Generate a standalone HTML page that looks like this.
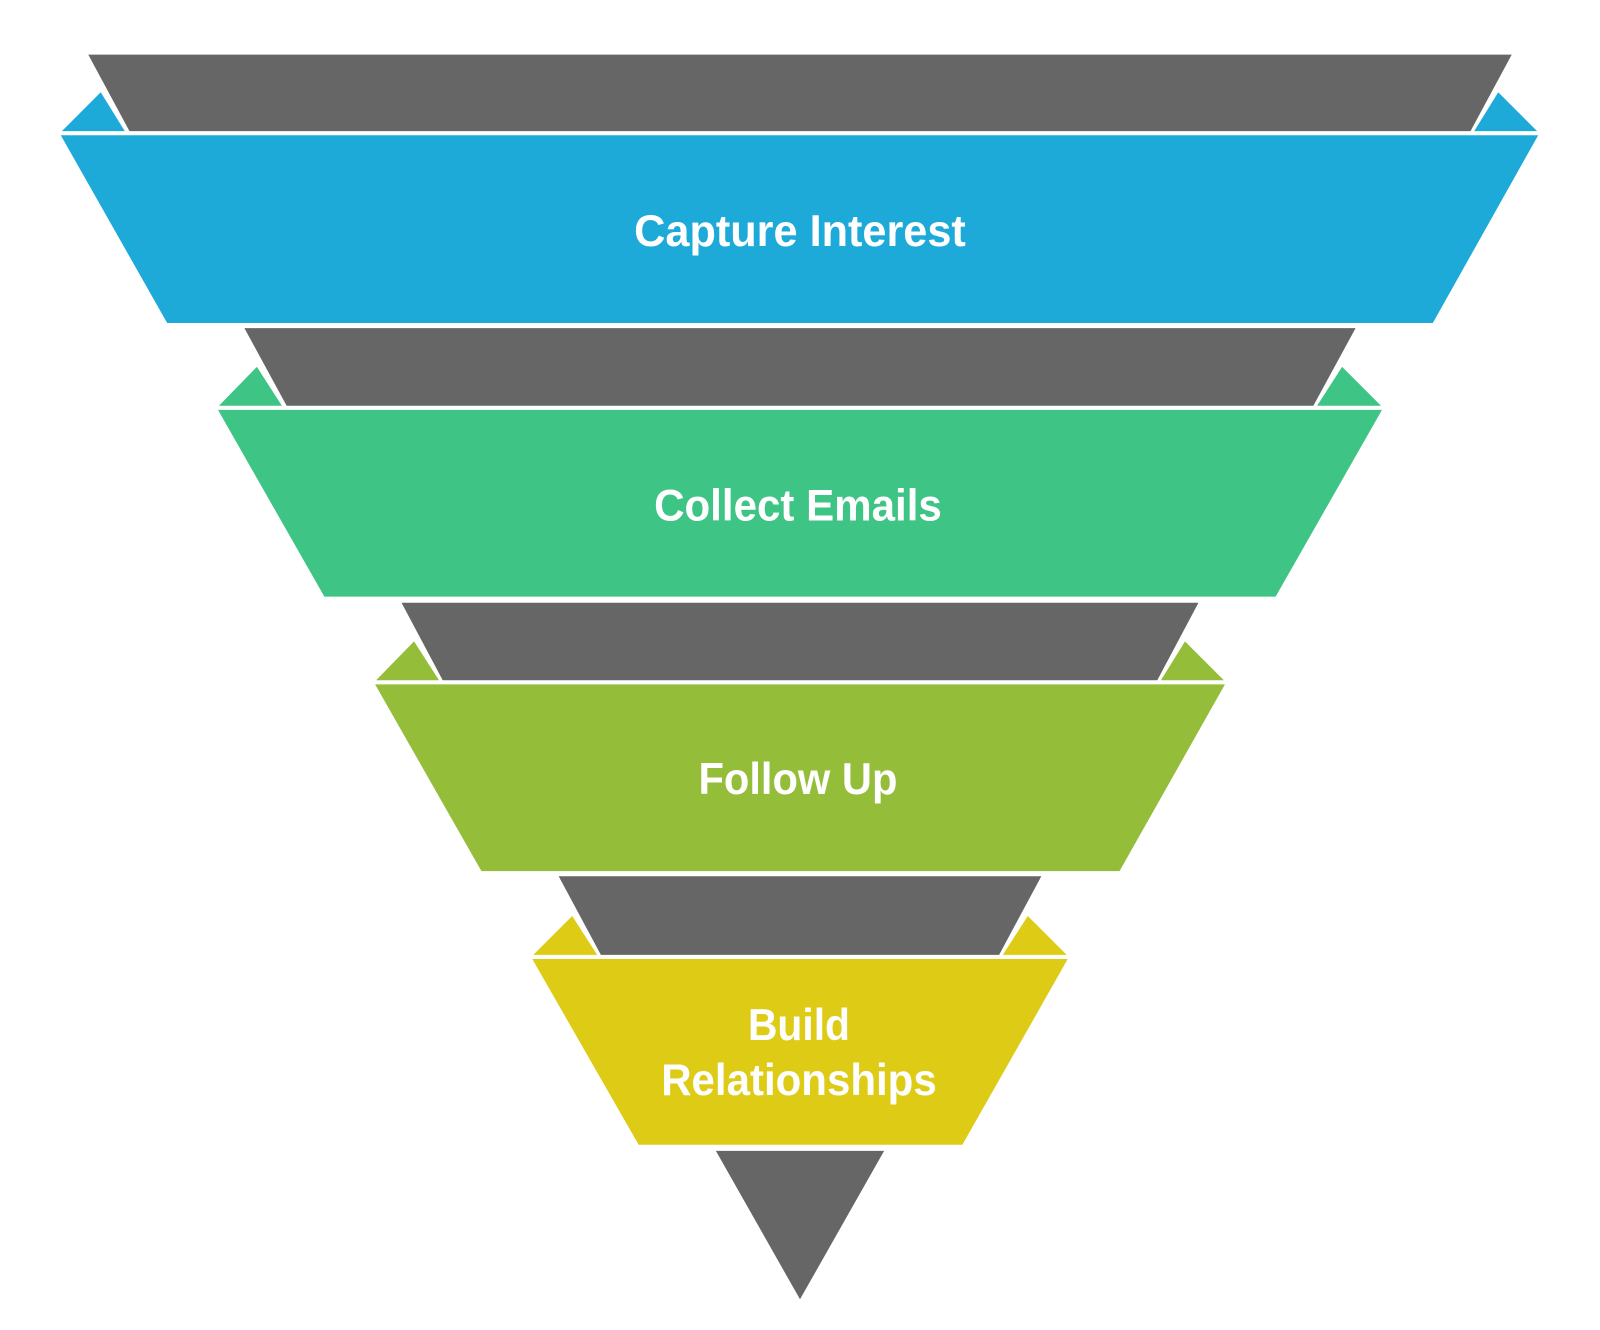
<!DOCTYPE html>
<html><head><meta charset="utf-8"><style>
html,body{margin:0;padding:0;background:#fff;}
svg{display:block;}
text{font-family:"Liberation Sans",Arial,sans-serif;font-weight:bold;fill:#fff;text-anchor:middle;font-size:44px;}
</style></head><body>
<svg width="1600" height="1330" viewBox="0 0 1568 1303" preserveAspectRatio="none" xmlns="http://www.w3.org/2000/svg">
<g stroke="#fff" stroke-width="3" stroke-linejoin="miter">
<!-- layer 1 -->
<polygon points="57,130 99,88 125,130" fill="#1eaad9"/>
<polygon points="1510,130 1468,88 1442,130" fill="#1eaad9"/>
<polygon points="84,52 1484,52 1442,130 126,130" fill="#666"/>
<polygon points="57,131 1510,131 1405,318 163,318" fill="#1eaad9"/>
<!-- layer 2 -->
<polygon points="211,399 252,357 279,399" fill="#3ec484"/>
<polygon points="1357,399 1315,357 1288,399" fill="#3ec484"/>
<polygon points="237,320 1331,320 1288,399 280,399" fill="#666"/>
<polygon points="211,400 1357,400 1251,586 317,586" fill="#3ec484"/>
<!-- layer 3 -->
<polygon points="365,668 406,626 433,668" fill="#94bd3a"/>
<polygon points="1203,668 1161,626 1135,668" fill="#94bd3a"/>
<polygon points="391,589 1177,589 1135,668 433,668" fill="#666"/>
<polygon points="365,669 1203,669 1098,855 471,855" fill="#94bd3a"/>
<!-- layer 4 -->
<polygon points="519,937 561,895 588,937" fill="#ddcb16"/>
<polygon points="1049,937 1007,895 980,937" fill="#ddcb16"/>
<polygon points="545,857 1023,857 980,937 588,937" fill="#666"/>
<polygon points="519,938 1049,938 944,1123 625,1123" fill="#ddcb16"/>
<!-- bottom -->
<polygon points="699,1126 869,1126 784,1276" fill="#666"/>
</g>
<text x="784" y="241" textLength="325" lengthAdjust="spacingAndGlyphs">Capture Interest</text>
<text x="782" y="510" textLength="282" lengthAdjust="spacingAndGlyphs">Collect Emails</text>
<text x="782" y="778" textLength="195" lengthAdjust="spacingAndGlyphs">Follow Up</text>
<text x="783" y="1019" textLength="100" lengthAdjust="spacingAndGlyphs">Build</text>
<text x="783" y="1073" textLength="270" lengthAdjust="spacingAndGlyphs">Relationships</text>
</svg>
</body></html>
